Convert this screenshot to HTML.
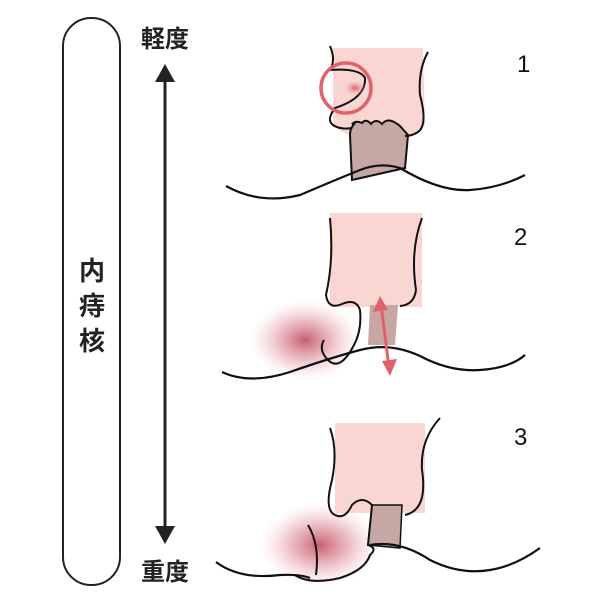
<!DOCTYPE html>
<html><head><meta charset="utf-8"><style>
body{margin:0;background:#fff;}
svg{display:block}
text{font-family:"Liberation Sans","Noto Sans CJK JP",sans-serif;}
</style></head><body>
<svg width="600" height="600" viewBox="0 0 600 600" xmlns="http://www.w3.org/2000/svg">
<defs>
<radialGradient id="rb" cx="0.5" cy="0.5" r="0.5">
<stop offset="0" stop-color="#b8384a" stop-opacity="0.8"/>
<stop offset="0.5" stop-color="#d06070" stop-opacity="0.4"/>
<stop offset="1" stop-color="#f0b0b8" stop-opacity="0"/>
</radialGradient>
<radialGradient id="rs" cx="0.5" cy="0.5" r="0.5">
<stop offset="0" stop-color="#d04050" stop-opacity="0.8"/>
<stop offset="1" stop-color="#f5c0c0" stop-opacity="0"/>
</radialGradient>
</defs>
<rect x="63" y="18" width="57" height="567" rx="28" fill="#fff" stroke="#222" stroke-width="2"/>
<text x="92" y="280" font-size="26" font-weight="bold" text-anchor="middle" fill="#222">内</text>
<text x="92" y="315" font-size="26" font-weight="bold" text-anchor="middle" fill="#222">痔</text>
<text x="92" y="350" font-size="26" font-weight="bold" text-anchor="middle" fill="#222">核</text>
<text x="165" y="47" font-size="24" font-weight="bold" text-anchor="middle" fill="#222">軽度</text>
<text x="165" y="580" font-size="24" font-weight="bold" text-anchor="middle" fill="#222">重度</text>
<line x1="165" y1="80" x2="165" y2="528" stroke="#222" stroke-width="3"/>
<polygon points="165,64 155,82 175,82" fill="#222"/>
<polygon points="165,544 155,526 175,526" fill="#222"/>
<text x="517" y="72" font-size="24" fill="#111">1</text>
<text x="514" y="245" font-size="24" fill="#111">2</text>
<text x="514" y="445" font-size="24" fill="#111">3</text>

<!-- panel 1 -->
<path d="M333 48 L423 48 L425 125 Q418 135 405 135 L350 135 Q333 130 333 120 Z" fill="#f9d6d2"/>
<path d="M352 180 L350 135 Q350 128 355 123 L352 124 Q356 120 362 123 Q366 118 371 124 Q376 118 382 124 Q388 116 400 126 L408 135 L405 168 Z" fill="#c6a7a3" stroke="#111" stroke-width="2"/>
<path d="M330 46 Q336 60 330 70 Q360 68 365 78 Q366 98 335 108 Q326 120 333 125 Q340 130 352 128" fill="none" stroke="#111" stroke-width="2"/>
<path d="M428 52 Q418 70 420 95 Q428 125 418 132 Q412 136 405 136" fill="none" stroke="#111" stroke-width="2"/>
<ellipse cx="355" cy="88" rx="12" ry="8" fill="url(#rs)"/>
<circle cx="346" cy="88" r="25" fill="none" stroke="#e0616a" stroke-width="3.5"/>
<path d="M226 186 Q260 205 300 195 Q340 178 360 170 Q380 162 400 168 Q440 192 470 190 Q500 188 525 175" fill="none" stroke="#111" stroke-width="2.2"/>

<!-- panel 2 -->
<ellipse cx="305" cy="340" rx="55" ry="40" fill="url(#rb)"/>
<rect x="330" y="213" width="92" height="94" fill="#f9d6d2"/>
<path d="M370 305 L368 345 L395 345 L398 305 Z" fill="#c6a7a3"/>
<path d="M330 218 Q334 260 326 295 Q328 310 342 304 Q356 298 360 310 Q362 330 354 345 Q340 372 328 360 Q318 350 324 340" fill="none" stroke="#111" stroke-width="2"/>
<path d="M422 218 Q410 250 416 290 Q414 305 400 306" fill="none" stroke="#111" stroke-width="2"/>
<path d="M222 372 Q250 385 290 372 Q330 358 360 350 Q390 342 420 356 Q450 372 480 370 Q510 368 525 355" fill="none" stroke="#111" stroke-width="2.2"/>
<line x1="381" y1="304" x2="389" y2="368" stroke="#e0616a" stroke-width="3"/>
<polygon points="380,296 373,312 388,310" fill="#e0616a"/>
<polygon points="390,376 382,361 397,359" fill="#e0616a"/>

<!-- panel 3 -->
<ellipse cx="320" cy="545" rx="60" ry="42" fill="url(#rb)"/>
<rect x="335" y="423" width="90" height="90" fill="#f9d6d2"/>
<path d="M372 505 L368 545 L400 548 L402 505 Z" fill="#c6a7a3" stroke="#111" stroke-width="1.5"/>
<path d="M330 428 Q338 450 332 480 Q324 510 335 515 Q345 520 352 505 Q362 495 372 505 L368 545 Q378 548 370 555 Q365 570 340 578 Q310 585 295 575" fill="none" stroke="#111" stroke-width="2"/>
<path d="M308 525 Q320 545 316 575" fill="none" stroke="#111" stroke-width="2"/>
<path d="M440 418 Q420 440 422 470 Q428 510 405 515" fill="none" stroke="#111" stroke-width="2"/>
<path d="M216 562 Q240 580 280 575 Q300 574 310 578" fill="none" stroke="#111" stroke-width="2.2"/>
<path d="M370 545 Q400 540 430 560 Q460 575 490 570 Q515 566 540 548" fill="none" stroke="#111" stroke-width="2.2"/>
</svg>
</body></html>
